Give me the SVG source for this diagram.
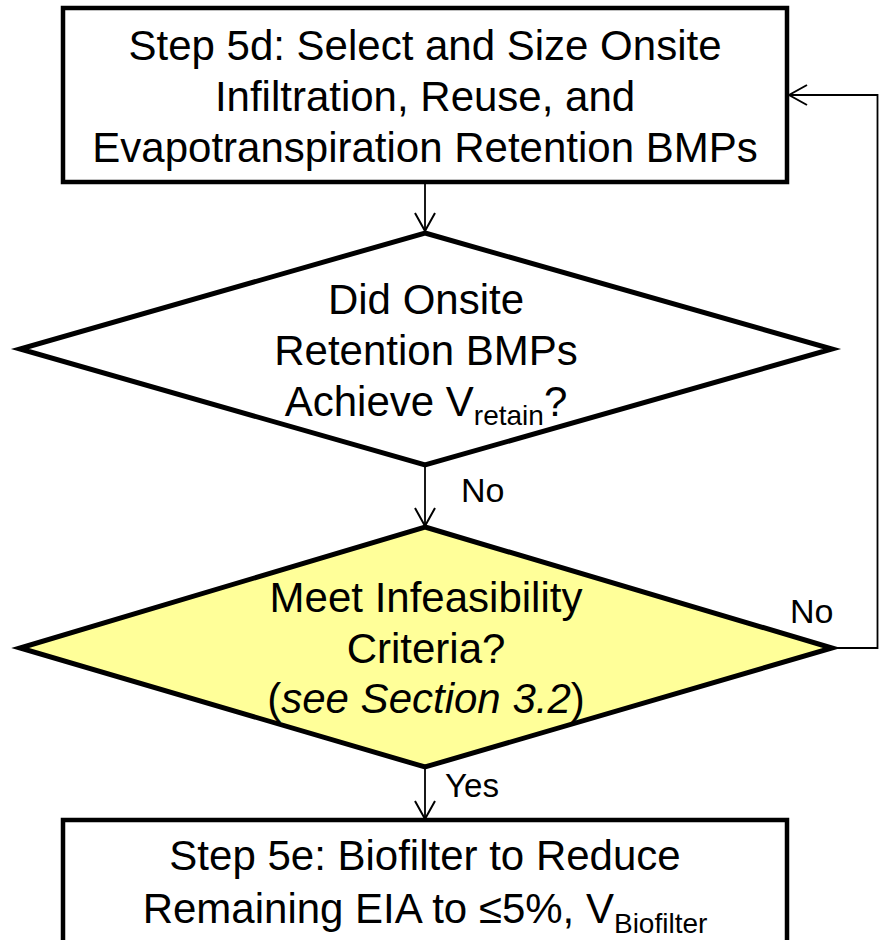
<svg xmlns="http://www.w3.org/2000/svg" width="879" height="940" viewBox="0 0 879 940">
<style>
.box{fill:#ffffff;stroke:#000000;stroke-width:4.5}
.dia{stroke:#000000;stroke-width:5;stroke-linejoin:miter}
.t{font-family:"Liberation Sans",Arial,sans-serif;font-size:42px;fill:#000000;text-anchor:middle}
.sub{font-size:28px}
.lbl{font-family:"Liberation Sans",Arial,sans-serif;font-size:34px;fill:#000000}
.con{fill:none;stroke:#000000;stroke-width:1.8}
</style>
<defs>
<marker id="arr" viewBox="0 0 20 22" refX="19" refY="11" markerWidth="20" markerHeight="22" markerUnits="userSpaceOnUse" orient="auto">
<path d="M1,1 L19,11 L1,21" fill="none" stroke="#000000" stroke-width="2"/>
</marker>
</defs>
<rect width="879" height="940" fill="#ffffff"/>
<g id="connectors">
<line class="con" x1="425" y1="184" x2="425" y2="231" marker-end="url(#arr)"/>
<line class="con" x1="425" y1="466" x2="425" y2="526" marker-end="url(#arr)"/>
<line class="con" x1="425" y1="768" x2="425" y2="819" marker-end="url(#arr)"/>
<polyline class="con" points="832,648 877.5,648 877.5,95 789,95" marker-end="url(#arr)"/>
</g>
<g id="step5d">
<rect class="box" x="63" y="8" width="724" height="174"/>
<text class="t" x="425" y="60">Step 5d: Select and Size Onsite</text>
<text class="t" x="425" y="111">Infiltration, Reuse, and</text>
<text class="t" x="425" y="162">Evapotranspiration Retention BMPs</text>
</g>
<g id="decision1">
<polygon class="dia" fill="#ffffff" points="425,233 832,349 425,465 20,349"/>
<text class="t" x="426" y="314">Did Onsite</text>
<text class="t" x="426" y="365">Retention BMPs</text>
<text class="t" x="426" y="416">Achieve V<tspan class="sub" dy="9">retain</tspan><tspan dy="-9">?</tspan></text>
</g>
<g id="decision2">
<polygon class="dia" fill="#ffff99" points="425,527 832,648 425,767 20,648"/>
<text class="t" x="426" y="612">Meet Infeasibility</text>
<text class="t" x="426" y="663">Criteria?</text>
<text class="t" x="426" y="713">(<tspan font-style="italic">see Section 3.2</tspan>)</text>
</g>
<g id="step5e">
<rect class="box" x="63" y="820" width="724" height="150"/>
<text class="t" x="425" y="870">Step 5e: Biofilter to Reduce</text>
<text class="t" x="425" y="923">Remaining EIA to ≤5%, V<tspan class="sub" dy="10">Biofilter</tspan></text>
</g>
<g id="labels">
<text class="lbl" x="461" y="502">No</text>
<text class="lbl" x="790" y="623">No</text>
<text class="lbl" x="445" y="797" textLength="54" lengthAdjust="spacingAndGlyphs">Yes</text>
</g>
</svg>
